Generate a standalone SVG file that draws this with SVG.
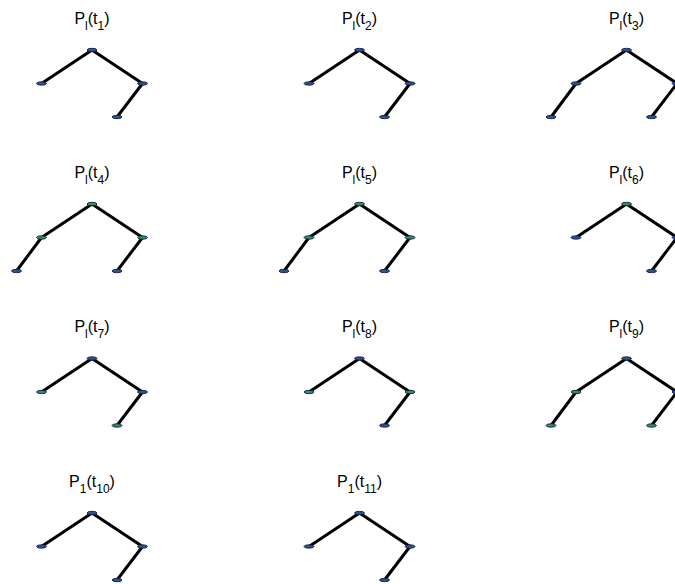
<svg xmlns="http://www.w3.org/2000/svg" width="675" height="584" viewBox="0 0 675 584">
<style>
.t{font-family:"Liberation Sans",Arial,sans-serif;font-size:16px;fill:#000;text-anchor:middle}
.s{font-size:12px}
.e line{stroke:#000;stroke-width:3;stroke-linecap:butt}
.n{stroke:#16186e;stroke-width:0.9}
.g{fill:#2f9a3a}
.b{fill:#2b5a6e}
</style>
<defs>
<ellipse id="nd" cx="0" cy="0" rx="5" ry="1.7"/>
</defs>
<rect width="675" height="584" fill="#fff"/>

<!-- titles -->
<g id="titles">
<text class="t" x="92" y="24">P<tspan class="s" dy="6">l</tspan><tspan dy="-6">(t</tspan><tspan class="s" dy="6">1</tspan><tspan dy="-6">)</tspan></text>
<text class="t" x="359.5" y="24">P<tspan class="s" dy="6">l</tspan><tspan dy="-6">(t</tspan><tspan class="s" dy="6">2</tspan><tspan dy="-6">)</tspan></text>
<text class="t" x="626.5" y="24">P<tspan class="s" dy="6">l</tspan><tspan dy="-6">(t</tspan><tspan class="s" dy="6">3</tspan><tspan dy="-6">)</tspan></text>
<text class="t" x="92" y="178">P<tspan class="s" dy="6">l</tspan><tspan dy="-6">(t</tspan><tspan class="s" dy="6">4</tspan><tspan dy="-6">)</tspan></text>
<text class="t" x="359.5" y="178">P<tspan class="s" dy="6">l</tspan><tspan dy="-6">(t</tspan><tspan class="s" dy="6">5</tspan><tspan dy="-6">)</tspan></text>
<text class="t" x="626.5" y="178">P<tspan class="s" dy="6">l</tspan><tspan dy="-6">(t</tspan><tspan class="s" dy="6">6</tspan><tspan dy="-6">)</tspan></text>
<text class="t" x="92" y="332">P<tspan class="s" dy="6">l</tspan><tspan dy="-6">(t</tspan><tspan class="s" dy="6">7</tspan><tspan dy="-6">)</tspan></text>
<text class="t" x="359.5" y="332">P<tspan class="s" dy="6">l</tspan><tspan dy="-6">(t</tspan><tspan class="s" dy="6">8</tspan><tspan dy="-6">)</tspan></text>
<text class="t" x="626.5" y="332">P<tspan class="s" dy="6">l</tspan><tspan dy="-6">(t</tspan><tspan class="s" dy="6">9</tspan><tspan dy="-6">)</tspan></text>
<text class="t" x="92" y="487">P<tspan class="s" dy="6">1</tspan><tspan dy="-6">(t</tspan><tspan class="s" dy="6">10</tspan><tspan dy="-6">)</tspan></text>
<text class="t" x="359.5" y="487">P<tspan class="s" dy="6">1</tspan><tspan dy="-6">(t</tspan><tspan class="s" dy="6">11</tspan><tspan dy="-6">)</tspan></text>
</g>

<!-- connectors -->
<g id="connectors" class="e">
<line x1="92" y1="50" x2="41.5" y2="83.5"/><line x1="92" y1="50" x2="142.5" y2="83.5"/><line x1="142.5" y1="83.5" x2="117" y2="117"/>
<line x1="359.5" y1="50" x2="309" y2="83.5"/><line x1="359.5" y1="50" x2="410" y2="83.5"/><line x1="410" y1="83.5" x2="384.5" y2="117"/>
<line x1="626.5" y1="50" x2="576" y2="83.5"/><line x1="576" y1="83.5" x2="551" y2="117"/><line x1="626.5" y1="50" x2="677" y2="83.5"/><line x1="677" y1="83.5" x2="651.5" y2="117"/>
<line x1="92" y1="204" x2="41.5" y2="237.5"/><line x1="41.5" y1="237.5" x2="16.5" y2="271"/><line x1="92" y1="204" x2="142.5" y2="237.5"/><line x1="142.5" y1="237.5" x2="117" y2="271"/>
<line x1="359.5" y1="204" x2="309" y2="237.5"/><line x1="309" y1="237.5" x2="284" y2="271"/><line x1="359.5" y1="204" x2="410" y2="237.5"/><line x1="410" y1="237.5" x2="384.5" y2="271"/>
<line x1="626.5" y1="204" x2="576" y2="237.5"/><line x1="626.5" y1="204" x2="677" y2="237.5"/><line x1="677" y1="237.5" x2="651.5" y2="271"/>
<line x1="92" y1="358.5" x2="41.5" y2="392"/><line x1="92" y1="358.5" x2="142.5" y2="392"/><line x1="142.5" y1="392" x2="117" y2="425.5"/>
<line x1="359.5" y1="358.5" x2="309" y2="392"/><line x1="359.5" y1="358.5" x2="410" y2="392"/><line x1="410" y1="392" x2="384.5" y2="425.5"/>
<line x1="626.5" y1="358.5" x2="576" y2="392"/><line x1="576" y1="392" x2="551" y2="425.5"/><line x1="626.5" y1="358.5" x2="677" y2="392"/><line x1="677" y1="392" x2="651.5" y2="425.5"/>
<line x1="92" y1="513" x2="41.5" y2="546.5"/><line x1="92" y1="513" x2="142.5" y2="546.5"/><line x1="142.5" y1="546.5" x2="117" y2="580"/>
<line x1="359.5" y1="513" x2="309" y2="546.5"/><line x1="359.5" y1="513" x2="410" y2="546.5"/><line x1="410" y1="546.5" x2="384.5" y2="580"/>
</g>

<!-- nodes -->
<g id="p1-root"><use href="#nd" class="n b" x="92" y="50"/></g>
<g id="p1-left"><use href="#nd" class="n b" x="41.5" y="83.5"/></g>
<g id="p1-right"><use href="#nd" class="n b" x="142.5" y="83.5"/></g>
<g id="p1-br"><use href="#nd" class="n b" x="117" y="117"/></g>

<g id="p2-root"><use href="#nd" class="n b" x="359.5" y="50"/></g>
<g id="p2-left"><use href="#nd" class="n b" x="309" y="83.5"/></g>
<g id="p2-right"><use href="#nd" class="n b" x="410" y="83.5"/></g>
<g id="p2-br"><use href="#nd" class="n b" x="384.5" y="117"/></g>

<g id="p3-root"><use href="#nd" class="n b" x="626.5" y="50"/></g>
<g id="p3-left"><use href="#nd" class="n b" x="576" y="83.5"/></g>
<g id="p3-bl"><use href="#nd" class="n b" x="551" y="117"/></g>
<g id="p3-right"><use href="#nd" class="n b" x="677" y="83.5"/></g>
<g id="p3-br"><use href="#nd" class="n b" x="651.5" y="117"/></g>

<g id="p4-root"><use href="#nd" class="n g" x="92" y="204"/></g>
<g id="p4-left"><use href="#nd" class="n g" x="41.5" y="237.5"/></g>
<g id="p4-bl"><use href="#nd" class="n b" x="16.5" y="271"/></g>
<g id="p4-right"><use href="#nd" class="n g" x="142.5" y="237.5"/></g>
<g id="p4-br"><use href="#nd" class="n b" x="117" y="271"/></g>

<g id="p5-root"><use href="#nd" class="n g" x="359.5" y="204"/></g>
<g id="p5-left"><use href="#nd" class="n g" x="309" y="237.5"/></g>
<g id="p5-bl"><use href="#nd" class="n b" x="284" y="271"/></g>
<g id="p5-right"><use href="#nd" class="n g" x="410" y="237.5"/></g>
<g id="p5-br"><use href="#nd" class="n b" x="384.5" y="271"/></g>

<g id="p6-root"><use href="#nd" class="n g" x="626.5" y="204"/></g>
<g id="p6-left"><use href="#nd" class="n b" x="576" y="237.5"/></g>
<g id="p6-right"><use href="#nd" class="n b" x="677" y="237.5"/></g>
<g id="p6-br"><use href="#nd" class="n b" x="651.5" y="271"/></g>

<g id="p7-root"><use href="#nd" class="n b" x="92" y="358.5"/></g>
<g id="p7-left"><use href="#nd" class="n g" x="41.5" y="392"/></g>
<g id="p7-right"><use href="#nd" class="n b" x="142.5" y="392"/></g>
<g id="p7-br"><use href="#nd" class="n g" x="117" y="425.5"/></g>

<g id="p8-root"><use href="#nd" class="n b" x="359.5" y="358.5"/></g>
<g id="p8-left"><use href="#nd" class="n g" x="309" y="392"/></g>
<g id="p8-right"><use href="#nd" class="n g" x="410" y="392"/></g>
<g id="p8-br"><use href="#nd" class="n b" x="384.5" y="425.5"/></g>

<g id="p9-root"><use href="#nd" class="n b" x="626.5" y="358.5"/></g>
<g id="p9-left"><use href="#nd" class="n g" x="576" y="392"/></g>
<g id="p9-bl"><use href="#nd" class="n g" x="551" y="425.5"/></g>
<g id="p9-right"><use href="#nd" class="n b" x="677" y="392"/></g>
<g id="p9-br"><use href="#nd" class="n g" x="651.5" y="425.5"/></g>

<g id="p10-root"><use href="#nd" class="n b" x="92" y="513"/></g>
<g id="p10-left"><use href="#nd" class="n b" x="41.5" y="546.5"/></g>
<g id="p10-right"><use href="#nd" class="n b" x="142.5" y="546.5"/></g>
<g id="p10-br"><use href="#nd" class="n b" x="117" y="580"/></g>

<g id="p11-root"><use href="#nd" class="n b" x="359.5" y="513"/></g>
<g id="p11-left"><use href="#nd" class="n b" x="309" y="546.5"/></g>
<g id="p11-right"><use href="#nd" class="n b" x="410" y="546.5"/></g>
<g id="p11-br"><use href="#nd" class="n b" x="384.5" y="580"/></g>
</svg>
